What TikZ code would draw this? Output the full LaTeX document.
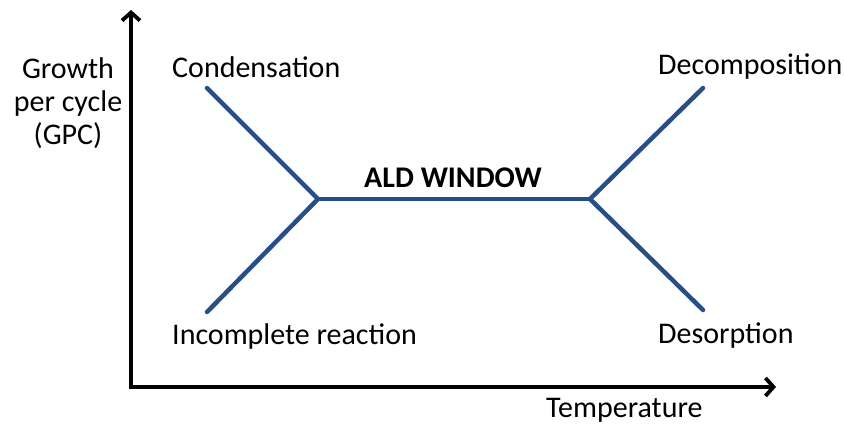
\documentclass[tikz,border=0pt]{standalone}
\usepackage{fontspec}
\setmainfont{Carlito}
\usetikzlibrary{arrows.meta}
\definecolor{aldblue}{RGB}{40,78,138}
\begin{document}
\begin{tikzpicture}[x=1pt,y=-1pt,
  axis/.style={line width=3.8pt,-{Straight Barb[length=8pt,width=18pt,line width=3.8pt]}},
  curve/.style={line width=4.5pt,aldblue,line cap=round,line join=miter},
  lbl/.style={inner sep=0pt,font=\fontsize{30}{34}\selectfont},
]
\useasboundingbox (0,0) rectangle (844,426);
% axes
\coordinate (o) at (131,387);
\coordinate (ytip) at (131,10);
\coordinate (xtip) at (776,387);
\draw[axis] (131,389) -- (ytip);
\draw[axis] (129,387) -- (xtip);
% blue curve
\coordinate (lt) at (207,88);
\coordinate (lb) at (207,312);
\coordinate (lm) at (318,199);
\coordinate (rm) at (590,199);
\coordinate (rt) at (703,88);
\coordinate (rb) at (703,310);
\draw[curve] (lt) -- (lm) -- (lb);
\draw[curve] (lm) -- (rm);
\draw[curve] (rt) -- (rm) -- (rb);
% labels
\node[lbl,anchor=west] (cond) at (172,67) {Condensation};
\node[lbl,anchor=west] (decomp) at (658,67) {Decomposition};
\node[lbl,anchor=west] (incomp) at (172,336) {Incomplete reaction};
\node[lbl,anchor=west] (desorp) at (658,336) {Desorption};
\node[lbl,anchor=west] (temp) at (546,410) {Temperature};
\node[lbl,font=\fontsize{30}{34}\bfseries\selectfont] (ald) at (453,178) {ALD WINDOW};
\node[lbl,align=center,font=\fontsize{30}{33}\selectfont] (gpc) at (68,103) {Growth\\per cycle\\(GPC)};
\end{tikzpicture}
\end{document}
